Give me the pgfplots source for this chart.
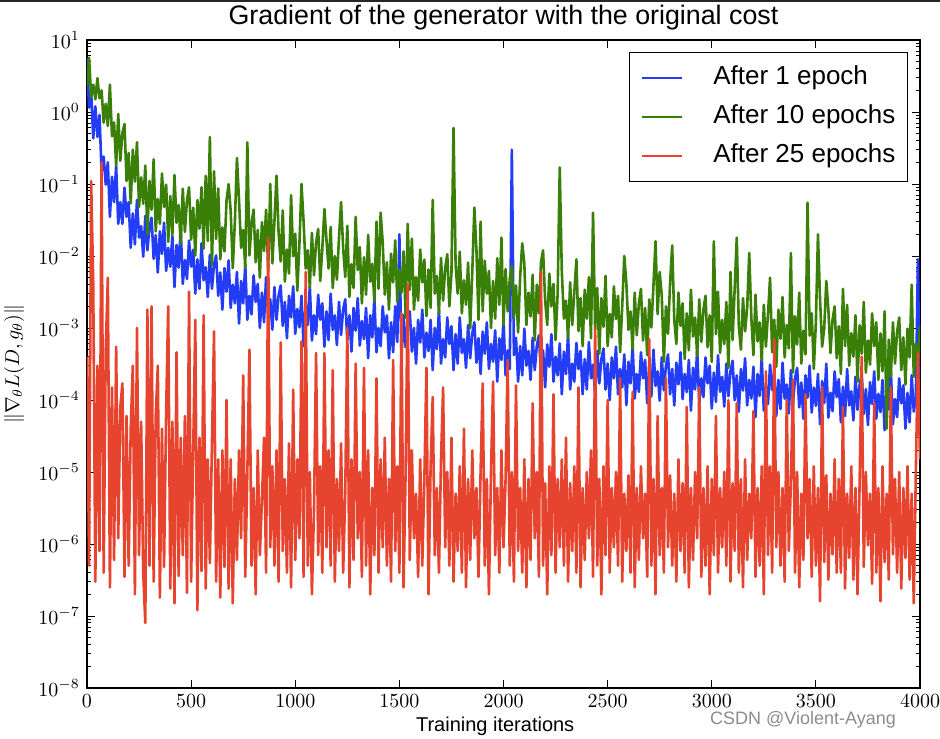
\documentclass[border=0pt]{standalone}
\usepackage{fontspec}
\setmainfont{Liberation Sans}
\usepackage{pgfplots}
\pgfplotsset{compat=1.18}
\definecolor{mblue}{RGB}{35,60,245}
\definecolor{mgreen}{RGB}{58,128,8}
\definecolor{mred}{RGB}{230,68,46}
\begin{document}
\begin{tikzpicture}
\begin{axis}[
    scale only axis,
    width=416.5pt, height=324pt,
    xmin=0, xmax=4000,
    ymode=log, ymin=1e-8, ymax=10,
    xtick={0,500,...,4000},
    ytickten={-8,...,1},
    /pgf/number format/1000 sep={},
    tick align=inside,
    major tick length=4pt, minor tick length=2pt,
    axis line style={line width=0.7pt},
    tick style={black, line width=0.5pt},
    title={Gradient of the generator with the original cost},
    every axis title/.style={at={(0.5,1)}, anchor=base, yshift=7.5pt, font=\fontsize{13.4}{15}\selectfont},
    xlabel={Training iterations},
    every axis x label/.style={at={(0.49,0)}, anchor=base, yshift=-21.5pt, font=\fontsize{10}{12}\selectfont},
    ylabel={$\|\nabla_\theta L(D,g_\theta)\|$},
    every axis y label/.style={at={(-0.0876,0.5)}, anchor=center, rotate=90},
    legend image code/.code={\draw[#1, line width=0.8pt] (0pt,0pt) -- (20pt,0pt);},
    legend style={at={(1,1)}, anchor=north east, xshift=-6pt, yshift=-6pt,
        draw=black, line width=0.6pt, inner xsep=6pt, inner ysep=6.7pt,
        row sep=7.4pt, font=\fontsize{13}{15}\selectfont,
        /tikz/every odd column/.append style={column sep=15pt},
        nodes={inner xsep=0pt, inner ysep=0pt, text height=9.4pt, text depth=2.7pt}},
    legend cell align=left,
    every axis plot/.append style={line width=1.3pt, line join=round},
]

% after 1 epoch
\addplot[mblue] coordinates {
(0,5.6) (10,1.15) (20,1.9) (30,0.43) (40,1.2) (50,0.45) (60,0.91) (70,0.15) (80,0.24) (90,0.098) (100,0.2)
(110,0.035) (120,0.126) (130,0.056) (140,0.18) (150,0.028) (160,0.056) (170,0.028) (180,0.089) (190,0.035) (200,0.056)
(210,0.013) (220,0.039) (230,0.0145) (240,0.06) (250,0.018) (260,0.026) (270,0.0098) (280,0.036) (290,0.012) (300,0.025)
(310,0.034) (320,0.0091) (330,0.0195) (340,0.0059) (350,0.022) (360,0.0107) (370,0.029) (380,0.0062) (390,0.013) (400,0.0071)
(410,0.019) (420,0.0037) (430,0.0143) (440,0.0069) (450,0.024) (460,0.0041) (470,0.0088) (480,0.0048) (490,0.0164) (500,0.0071)
(510,0.0122) (520,0.003) (530,0.009) (540,0.0035) (550,0.015) (560,0.0046) (570,0.007) (580,0.0027) (590,0.0104) (600,0.0035)
(610,0.0076) (620,0.0102) (630,0.0028) (640,0.0059) (650,0.0018) (660,0.0068) (670,0.0032) (680,0.0087) (690,0.0019) (700,0.004)
(710,0.0022) (720,0.006) (730,0.00115) (740,0.0045) (750,0.0022) (760,0.0076) (770,0.0013) (780,0.0028) (790,0.00155) (800,0.0054)
(810,0.0023) (820,0.0041) (830,0.001) (840,0.0031) (850,0.0012) (860,0.0051) (870,0.0016) (880,0.0025) (890,0.00095) (900,0.0037)
(910,0.0013) (920,0.0028) (930,0.0039) (940,0.00107) (950,0.0023) (960,0.00072) (970,0.0028) (980,0.0014) (990,0.0038) (1000,0.00083)
(1010,0.00184) (1020,0.00102) (1030,0.0028) (1040,0.00056) (1050,0.0022) (1060,0.0011) (1070,0.0038) (1080,0.00067) (1090,0.0015) (1100,0.00082)
(1110,0.0029) (1120,0.0013) (1130,0.0022) (1140,0.00055) (1150,0.0017) (1160,0.00068) (1170,0.003) (1180,0.00094) (1190,0.0015) (1200,0.00058)
(1210,0.0023) (1220,0.0008) (1230,0.0018) (1240,0.0025) (1250,0.00068) (1260,0.0015) (1270,0.00047) (1280,0.0019) (1290,0.00092) (1300,0.0026)
(1310,0.00057) (1320,0.00125) (1330,0.0007) (1340,0.0019) (1350,0.00038) (1360,0.0015) (1370,0.00074) (1380,0.0026) (1390,0.00046) (1400,0.001)
(1410,0.00056) (1420,0.002) (1430,0.00087) (1440,0.0015) (1450,0.00038) (1460,0.0012) (1470,0.00046) (1480,0.002) (1490,0.00064) (1500,0.02)
(1510,0.00039) (1520,0.0015) (1530,0.00054) (1540,0.0012) (1550,0.0017) (1560,0.00047) (1570,0.001) (1580,0.00032) (1590,0.0013) (1600,0.00063)
(1610,0.0018) (1620,0.00039) (1630,0.00086) (1640,0.00048) (1650,0.0013) (1660,0.00026) (1670,0.001) (1680,0.00051) (1690,0.0018) (1700,0.00032)
(1710,0.0007) (1720,0.00039) (1730,0.0014) (1740,0.0006) (1750,0.00106) (1760,0.00026) (1770,0.00082) (1780,0.00032) (1790,0.0014) (1800,0.00045)
(1810,0.0007) (1820,0.00028) (1830,0.0011) (1840,0.00038) (1850,0.00084) (1860,0.0012) (1870,0.00033) (1880,0.00072) (1890,0.00023) (1900,0.00089)
(1910,0.00044) (1920,0.0012) (1930,0.00027) (1940,0.0006) (1950,0.00034) (1960,0.00093) (1970,0.00018) (1980,0.00072) (1990,0.00036) (2000,0.0013)
(2010,0.00022) (2020,0.00049) (2030,0.00027) (2040,0.3) (2050,0.00042) (2060,0.00073) (2070,0.00018) (2080,0.00056) (2090,0.00022) (2100,0.00098)
(2110,0.0003) (2120,0.00048) (2130,0.00019) (2140,0.00073) (2150,0.00026) (2160,0.00057) (2170,0.00079) (2180,0.00022) (2190,0.00049) (2200,0.00015)
(2210,0.00059) (2220,0.00029) (2230,0.00082) (2240,0.00018) (2250,0.0004) (2260,0.00022) (2270,0.00061) (2280,0.00012) (2290,0.00047) (2300,0.00023)
(2310,0.00082) (2320,0.00014) (2330,0.00032) (2340,0.00018) (2350,0.00062) (2360,0.00027) (2370,0.00048) (2380,0.00012) (2390,0.00037) (2400,0.00014)
(2410,0.00064) (2420,0.0002) (2430,0.00031) (2440,0.00012) (2450,0.00048) (2460,0.00017) (2470,0.00037) (2480,0.00052) (2490,0.00014) (2500,0.00032)
(2510,0.0001) (2520,0.00039) (2530,0.0002) (2540,0.00055) (2550,0.00012) (2560,0.00027) (2570,0.00015) (2580,0.00043) (2590,0.000085) (2600,0.00034)
(2610,0.00017) (2620,0.00059) (2630,0.000105) (2640,0.00023) (2650,0.00013) (2660,0.00046) (2670,0.0002) (2680,0.00036) (2690,0.00009) (2700,0.00028)
(2710,0.000112) (2720,0.0005) (2730,0.000157) (2740,0.00025) (2750,0.000098) (2760,0.00039) (2770,0.000136) (2780,0.0003) (2790,0.00043) (2800,0.00012)
(2810,0.00027) (2820,0.000084) (2830,0.00033) (2840,0.000165) (2850,0.00046) (2860,0.000103) (2870,0.00023) (2880,0.000129) (2890,0.00036) (2900,0.000071)
(2910,0.00028) (2920,0.00014) (2930,0.0005) (2940,0.000088) (2950,0.0002) (2960,0.00011) (2970,0.00039) (2980,0.00017) (2990,0.0003) (3000,0.000076)
(3010,0.00024) (3020,0.000094) (3030,0.00042) (3040,0.00013) (3050,0.00021) (3060,0.000081) (3070,0.00032) (3080,0.000113) (3090,0.00025) (3100,0.00035)
(3110,0.000099) (3120,0.00022) (3130,0.000069) (3140,0.00027) (3150,0.000135) (3160,0.00038) (3170,0.000084) (3180,0.00019) (3190,0.000105) (3200,0.00029)
(3210,0.000058) (3220,0.00023) (3230,0.000114) (3240,0.0004) (3250,0.000071) (3260,0.000157) (3270,0.000088) (3280,0.00031) (3290,0.000137) (3300,0.00024)
(3310,0.00006) (3320,0.00019) (3330,0.000075) (3340,0.00033) (3350,0.000104) (3360,0.000164) (3370,0.000065) (3380,0.00026) (3390,0.00009) (3400,0.0002)
(3410,0.00028) (3420,0.000079) (3430,0.000175) (3440,0.000055) (3450,0.00022) (3460,0.000108) (3470,0.0003) (3480,0.000067) (3490,0.000149) (3500,0.000083)
(3510,0.00023) (3520,0.000046) (3530,0.000183) (3540,0.000091) (3550,0.00032) (3560,0.000057) (3570,0.000126) (3580,0.00007) (3590,0.00025) (3600,0.00011)
(3610,0.000195) (3620,0.000049) (3630,0.000153) (3640,0.00006) (3650,0.00027) (3660,0.000084) (3670,0.000132) (3680,0.000052) (3690,0.00021) (3700,0.000073)
(3710,0.000163) (3720,0.00023) (3730,0.000064) (3740,0.000142) (3750,0.000045) (3760,0.000177) (3770,0.000088) (3780,0.00025) (3790,0.000055) (3800,0.000122)
(3810,0.000068) (3820,0.00019) (3830,0.000038) (3840,0.00015) (3850,0.000074) (3860,0.00026) (3870,0.000046) (3880,0.000103) (3890,0.000058) (3900,0.0002)
(3910,0.00009) (3920,0.00016) (3930,0.00004) (3940,0.000125) (3950,0.000049) (3960,0.00022) (3970,0.000069) (3980,0.000109) (3990,0.009) (4000,0.00004)
};
\addlegendentry{After 1 epoch}

% after 10 epochs
\addplot[mgreen] coordinates {
(0,2.3) (10,5.7) (20,1.6) (30,2.4) (40,1.5) (50,2.95) (60,1.55) (70,2.0) (80,0.71) (90,1.3) (100,0.64)
(110,2.4) (120,0.46) (130,0.72) (140,0.18) (150,0.94) (160,0.21) (170,0.51) (180,0.68) (190,0.11) (200,0.27)
(210,0.054) (220,0.3) (230,0.108) (240,0.38) (250,0.048) (260,0.124) (270,0.053) (280,0.18) (290,0.02) (300,0.11)
(310,0.044) (320,0.22) (330,0.022) (340,0.062) (350,0.028) (360,0.14) (370,0.048) (380,0.098) (390,0.0157) (400,0.068)
(410,0.0197) (420,0.133) (430,0.029) (440,0.051) (450,0.0148) (460,0.086) (470,0.0216) (480,0.06) (490,0.09) (500,0.0168)
(510,0.047) (520,0.0102) (530,0.06) (540,0.024) (550,0.09) (560,0.0126) (570,0.13) (580,0.0162) (590,0.45) (600,0.0073)
(610,0.15) (620,0.0172) (630,0.087) (640,0.009) (650,0.025) (660,0.0116) (670,0.059) (680,0.1) (690,0.042) (700,0.0068)
(710,0.0295) (720,0.23) (730,0.06) (740,0.013) (750,0.023) (760,0.0068) (770,0.38) (780,0.0102) (790,0.0285) (800,0.044)
(810,0.0082) (820,0.023) (830,0.005) (840,0.0295) (850,0.0117) (860,0.044) (870,0.0062) (880,0.1) (890,0.0079) (900,0.03)
(910,0.13) (920,0.021) (930,0.0084) (940,0.043) (950,0.0044) (960,0.0123) (970,0.0057) (980,0.07) (990,0.0099) (1000,0.0204)
(1010,0.0033) (1020,0.0147) (1030,0.1) (1040,0.03) (1050,0.0067) (1060,0.012) (1070,0.0036) (1080,0.021) (1090,0.0054) (1100,0.0153)
(1110,0.0237) (1120,0.0045) (1130,0.0126) (1140,0.045) (1150,0.0166) (1160,0.0067) (1170,0.0253) (1180,0.0036) (1190,0.01) (1200,0.0047)
(1210,0.0177) (1220,0.056) (1230,0.0128) (1240,0.0051) (1250,0.0263) (1260,0.0027) (1270,0.0077) (1280,0.0036) (1290,0.035) (1300,0.0064)
(1310,0.0133) (1320,0.0022) (1330,0.0096) (1340,0.0029) (1350,0.0197) (1360,0.0044) (1370,0.0078) (1380,0.0023) (1390,0.03) (1400,0.0035)
(1410,0.04) (1420,0.0154) (1430,0.0029) (1440,0.0082) (1450,0.0018) (1460,0.0108) (1470,0.0043) (1480,0.0165) (1490,0.0023) (1500,0.0065)
(1510,0.0031) (1520,0.0116) (1530,0.0014) (1540,0.028) (1550,0.0034) (1560,0.0174) (1570,0.0018) (1580,0.0051) (1590,0.0024) (1600,0.0123)
(1610,0.0043) (1620,0.0089) (1630,0.00146) (1640,0.0065) (1650,0.0019) (1660,0.06) (1670,0.003) (1680,0.0053) (1690,0.0016) (1700,0.0094)
(1710,0.0024) (1720,0.0068) (1730,0.0106) (1740,0.002) (1750,0.0057) (1760,0.6) (1770,0.0075) (1780,0.003) (1790,0.0115) (1800,0.0016)
(1810,0.0046) (1820,0.0021) (1830,0.0081) (1840,0.00099) (1850,0.0059) (1860,0.047) (1870,0.0122) (1880,0.0013) (1890,0.03) (1900,0.0017)
(1910,0.0086) (1920,0.003) (1930,0.0062) (1940,0.001) (1950,0.0045) (1960,0.00135) (1970,0.0093) (1980,0.0021) (1990,0.018) (2000,0.0011)
(2010,0.0066) (2020,0.0017) (2030,0.0048) (2040,0.0073) (2050,0.0014) (2060,0.0039) (2070,0.00087) (2080,0.0052) (2090,0.015) (2100,0.0079)
(2110,0.0011) (2120,0.0031) (2130,0.00145) (2140,0.0055) (2150,0.00067) (2160,0.004) (2170,0.0016) (2180,0.0082) (2190,0.012) (2200,0.0024)
(2210,0.0011) (2220,0.0057) (2230,0.002) (2240,0.0041) (2250,0.00068) (2260,0.003) (2270,0.17) (2280,0.0061) (2290,0.00135) (2300,0.0024)
(2310,0.00072) (2320,0.0043) (2330,0.0011) (2340,0.0031) (2350,0.009) (2360,0.00091) (2370,0.0026) (2380,0.00056) (2390,0.0034) (2400,0.00135)
(2410,0.0051) (2420,0.00072) (2430,0.04) (2440,0.00095) (2450,0.0036) (2460,0.00044) (2470,0.0026) (2480,0.00104) (2490,0.0053) (2500,0.00056)
(2510,0.00157) (2520,0.00074) (2530,0.0038) (2540,0.00133) (2550,0.0028) (2560,0.00046) (2570,0.002) (2580,0.01) (2590,0.0042) (2600,0.00094)
(2610,0.0017) (2620,0.00051) (2630,0.0031) (2640,0.00079) (2650,0.0022) (2660,0.0035) (2670,0.00067) (2680,0.0019) (2690,0.00042) (2700,0.0025)
(2710,0.00102) (2720,0.0039) (2730,0.016) (2740,0.00156) (2750,0.006) (2760,0.0028) (2770,0.00034) (2780,0.002) (2790,0.00083) (2800,0.0043)
(2810,0.014) (2820,0.0013) (2830,0.0006) (2840,0.0031) (2850,0.00107) (2860,0.0022) (2870,0.00037) (2880,0.0016) (2890,0.00049) (2900,0.0034)
(2910,0.00076) (2920,0.0014) (2930,0.00041) (2940,0.0025) (2950,0.00064) (2960,0.0018) (2970,0.0028) (2980,0.00054) (2990,0.0015) (3000,0.00034)
(3010,0.016) (3020,0.00082) (3030,0.0032) (3040,0.00045) (3050,0.0013) (3060,0.0006) (3070,0.0023) (3080,0.00028) (3090,0.006) (3100,0.00068)
(3110,0.0035) (3120,0.018) (3130,0.00106) (3140,0.0005) (3150,0.0026) (3160,0.0009) (3170,0.0019) (3180,0.011) (3190,0.0014) (3200,0.00042)
(3210,0.0029) (3220,0.00065) (3230,0.0012) (3240,0.00035) (3250,0.0021) (3260,0.00055) (3270,0.00155) (3280,0.005) (3290,0.00046) (3300,0.0013)
(3310,0.00029) (3320,0.0018) (3330,0.00071) (3340,0.0027) (3350,0.00039) (3360,0.0011) (3370,0.00052) (3380,0.011) (3390,0.00024) (3400,0.00146)
(3410,0.00059) (3420,0.0031) (3430,0.00032) (3440,0.00092) (3450,0.00043) (3460,0.055) (3470,0.00078) (3480,0.0016) (3490,0.00027) (3500,0.0012)
(3510,0.02) (3520,0.0025) (3530,0.00055) (3540,0.00099) (3550,0.0045) (3560,0.0018) (3570,0.00045) (3580,0.0013) (3590,0.002) (3600,0.00038)
(3610,0.00106) (3620,0.00023) (3630,0.0035) (3640,0.00056) (3650,0.0021) (3660,0.0003) (3670,0.00085) (3680,0.0004) (3690,0.0015) (3700,0.00018)
(3710,0.0011) (3720,0.00044) (3730,0.0023) (3740,0.00024) (3750,0.00067) (3760,0.00031) (3770,0.0016) (3780,0.00056) (3790,0.0012) (3800,0.00019)
(3810,0.00084) (3820,0.00025) (3830,0.0017) (3840,0.00004) (3850,0.00069) (3860,0.00021) (3870,0.0012) (3880,0.00032) (3890,0.00089) (3900,0.0014)
(3910,0.00026) (3920,0.00074) (3930,0.000164) (3940,0.00098) (3950,0.00039) (3960,0.004) (3970,0.00021) (3980,0.0006) (3990,0.00028) (4000,0.00106)
};
\addlegendentry{After 10 epochs}

% after 25 epochs
\addplot[mred] coordinates {
(0,4e-4) (10,5e-7) (20,0.11) (30,4e-3) (40,3e-7) (50,3e-4) (60,8e-7) (70,0.2) (80,4e-7) (90,5e-4) (100,5e-3)
(110,2.5e-7) (120,1.5e-4) (130,6e-7) (140,5.5e-4) (150,1.2e-6) (160,8e-5) (170,1.7e-4) (180,3.5e-7) (190,6e-5) (200,5e-7)
(210,4e-5) (220,3e-4) (230,2e-7) (240,1e-3) (250,7e-7) (260,5e-5) (270,4e-7) (280,8e-8) (290,1.8e-3) (300,5e-7)
(310,2e-3) (320,3e-7) (330,6e-5) (340,3e-4) (350,1.8e-7) (360,4e-5) (370,4.8e-7) (380,7e-5) (390,2e-3) (400,2.4e-7)
(410,5e-5) (420,1.5e-7) (430,4.6e-4) (440,3.6e-7) (450,3e-5) (460,7e-7) (470,6e-5) (480,2.1e-7) (490,3.2e-3) (500,3e-7)
(510,2e-5) (520,1.3e-3) (530,1.2e-7) (540,3e-5) (550,4.2e-7) (560,1.5e-3) (570,2.4e-7) (580,1.5e-5) (590,5.4e-7) (600,2.5e-5)
(610,9e-4) (620,3e-7) (630,1.5e-5) (640,1.8e-7) (650,2e-5) (660,4.8e-7) (670,1e-4) (680,2.4e-7) (690,1.5e-5) (700,1.5e-7)
(710,8e-6) (720,6e-7) (730,2e-5) (740,1.2e-6) (750,2.2e-4) (760,3.5e-7) (770,1e-5) (780,5e-4) (790,5e-7) (800,6e-6)
(810,2e-7) (820,2e-5) (830,7e-7) (840,4e-6) (850,3e-5) (860,4e-7) (870,0.018) (880,9e-7) (890,1.2e-5) (900,5e-7)
(910,2e-5) (920,3e-7) (930,6.3e-4) (940,8e-7) (950,8e-6) (960,4e-7) (970,2.5e-5) (980,2.5e-7) (990,1.4e-4) (1000,6e-7)
(1010,1.5e-5) (1020,1.2e-6) (1030,6.5e-4) (1040,3.5e-7) (1050,6e-3) (1060,5e-7) (1070,1e-5) (1080,2e-7) (1090,3e-6) (1100,4.5e-4)
(1110,7e-7) (1120,1.2e-5) (1130,4e-7) (1140,4.5e-4) (1150,9e-7) (1160,2e-5) (1170,5e-7) (1180,2.6e-4) (1190,3e-7) (1200,8e-6)
(1210,8e-7) (1220,2.5e-5) (1230,4e-7) (1240,5e-6) (1250,1e-3) (1260,2.5e-7) (1270,1.5e-5) (1280,6e-7) (1290,3.2e-4) (1300,1.2e-6)
(1310,1e-5) (1320,3.5e-7) (1330,2.8e-4) (1340,5e-7) (1350,2e-5) (1360,2e-7) (1370,6e-6) (1380,7e-7) (1390,2e-4) (1400,4e-7)
(1410,1.5e-5) (1420,9e-7) (1430,3e-5) (1440,5e-7) (1450,8e-6) (1460,3e-7) (1470,3.6e-4) (1480,8e-7) (1490,1.2e-5) (1500,4e-7)
(1510,1.6e-3) (1520,2.5e-7) (1530,1e-5) (1540,4e-3) (1550,6e-7) (1560,2e-5) (1570,1.2e-6) (1580,5e-6) (1590,3.5e-7) (1600,1.5e-5)
(1610,5e-7) (1620,8e-6) (1630,2.8e-4) (1640,2e-7) (1650,1.2e-5) (1660,1.1e-4) (1670,7e-7) (1680,6e-6) (1690,4e-7) (1700,1.5e-5)
(1710,1.5e-4) (1720,9e-7) (1730,1e-5) (1740,5e-7) (1750,3e-5) (1760,3e-7) (1770,5e-6) (1780,8e-7) (1790,1.2e-5) (1800,4e-7)
(1810,4e-5) (1820,2.5e-7) (1830,8e-6) (1840,6e-7) (1850,2e-5) (1860,1.2e-6) (1870,6e-6) (1880,3.5e-7) (1890,1e-5) (1900,1.7e-4)
(1910,5e-7) (1920,8e-6) (1930,2e-7) (1940,1e-5) (1950,1.8e-4) (1960,7e-7) (1970,6e-6) (1980,4e-7) (1990,2e-5) (2000,9e-7)
(2010,8e-6) (2020,3.6e-4) (2030,5e-7) (2040,1e-5) (2050,3e-7) (2060,1.6e-4) (2070,8e-7) (2080,6e-6) (2090,4e-7) (2100,1.5e-5)
(2110,2.5e-7) (2120,8e-6) (2130,6e-7) (2140,9e-5) (2150,1.2e-6) (2160,1e-5) (2170,3.5e-7) (2180,6e-3) (2190,5e-7) (2200,7e-6)
(2210,2e-7) (2220,1.2e-5) (2230,7e-7) (2240,1.2e-4) (2250,4e-7) (2260,8e-6) (2270,9e-7) (2280,1.5e-5) (2290,5e-7) (2300,3e-5)
(2310,3e-7) (2320,7e-6) (2330,8e-7) (2340,1.2e-5) (2350,4e-7) (2360,1.5e-4) (2370,2.5e-7) (2380,6e-6) (2390,6e-7) (2400,1e-5)
(2410,1.2e-6) (2420,2e-5) (2430,3.5e-7) (2440,1e-3) (2450,5e-7) (2460,8e-6) (2470,2e-7) (2480,1.2e-5) (2490,7e-7) (2500,1e-4)
(2510,4e-7) (2520,6e-6) (2530,9e-7) (2540,1e-5) (2550,5e-7) (2560,2e-4) (2570,3e-7) (2580,5e-6) (2590,8e-7) (2600,9e-6)
(2610,4e-7) (2620,1.3e-4) (2630,2.5e-7) (2640,6e-6) (2650,6e-7) (2660,1.2e-5) (2670,1.2e-6) (2680,5e-6) (2690,3.5e-7) (2700,7e-4)
(2710,5e-7) (2720,8e-6) (2730,2e-7) (2740,6e-5) (2750,7e-7) (2760,6e-6) (2770,4e-7) (2780,2e-4) (2790,9e-7) (2800,9e-6)
(2810,5e-7) (2820,5e-6) (2830,3e-7) (2840,1.5e-5) (2850,8e-7) (2860,7e-6) (2870,4e-7) (2880,8e-5) (2890,2.5e-7) (2900,6e-6)
(2910,6e-7) (2920,1e-5) (2930,1.2e-6) (2940,1.5e-4) (2950,3.5e-7) (2960,6e-6) (2970,5e-7) (2980,1.2e-5) (2990,2e-7) (3000,8e-6)
(3010,7e-7) (3020,6e-5) (3030,4e-7) (3040,6e-6) (3050,9e-7) (3060,1e-5) (3070,5e-7) (3080,1e-4) (3090,3e-7) (3100,7e-6)
(3110,8e-7) (3120,9e-5) (3130,4e-7) (3140,8e-6) (3150,2.5e-7) (3160,1.5e-5) (3170,6e-7) (3180,5e-6) (3190,1.2e-6) (3200,7e-5)
(3210,3.5e-7) (3220,6e-6) (3230,5e-7) (3240,1.2e-5) (3250,2e-7) (3260,2.5e-4) (3270,7e-7) (3280,1.2e-5) (3290,4e-7) (3300,7e-4)
(3310,9e-7) (3320,1e-5) (3330,5e-7) (3340,6e-6) (3350,3e-7) (3360,1e-4) (3370,8e-7) (3380,7e-6) (3390,1.9e-4) (3400,4e-7)
(3410,1e-5) (3420,2.5e-7) (3430,5e-6) (3440,6e-7) (3450,1.2e-4) (3460,1.2e-6) (3470,8e-6) (3480,3.5e-7) (3490,1.2e-5) (3500,5e-7)
(3510,6e-6) (3520,1.6e-7) (3530,1.5e-4) (3540,5.6e-7) (3550,9e-6) (3560,3.2e-7) (3570,5e-6) (3580,7.2e-7) (3590,1.5e-5) (3600,4e-7)
(3610,8e-6) (3620,4e-7) (3630,8e-5) (3640,2.4e-7) (3650,5e-6) (3660,6.4e-7) (3670,1.2e-5) (3680,3.2e-7) (3690,6e-6) (3700,2e-7)
(3710,7e-6) (3720,4e-4) (3730,4.8e-7) (3740,1e-5) (3750,9.6e-7) (3760,5e-6) (3770,2.8e-7) (3780,9e-5) (3790,4e-7) (3800,6e-6)
(3810,1.6e-7) (3820,1.2e-5) (3830,5.6e-7) (3840,5e-6) (3850,3.2e-7) (3860,1.5e-4) (3870,7.2e-7) (3880,8e-6) (3890,4e-7) (3900,1e-5)
(3910,2.4e-7) (3920,6e-6) (3930,6.4e-7) (3940,1.2e-5) (3950,3.2e-7) (3960,5e-6) (3970,1.5e-7) (3980,1e-5) (3990,4.5e-4) (4000,1.5e-5)
};
\addlegendentry{After 25 epochs}

\end{axis}
\node[font=\fontsize{9}{10}\selectfont, text=black!45] at (358pt,-16pt) {CSDN @Violent-Ayang};
\draw[black!85, line width=0.8pt] (-43.5pt,343.6pt) -- (426.5pt,343.6pt);
\pgfresetboundingbox
\path[use as bounding box] (-43.5pt,-25pt) rectangle (426.5pt,344pt);
\end{tikzpicture}
\end{document}
